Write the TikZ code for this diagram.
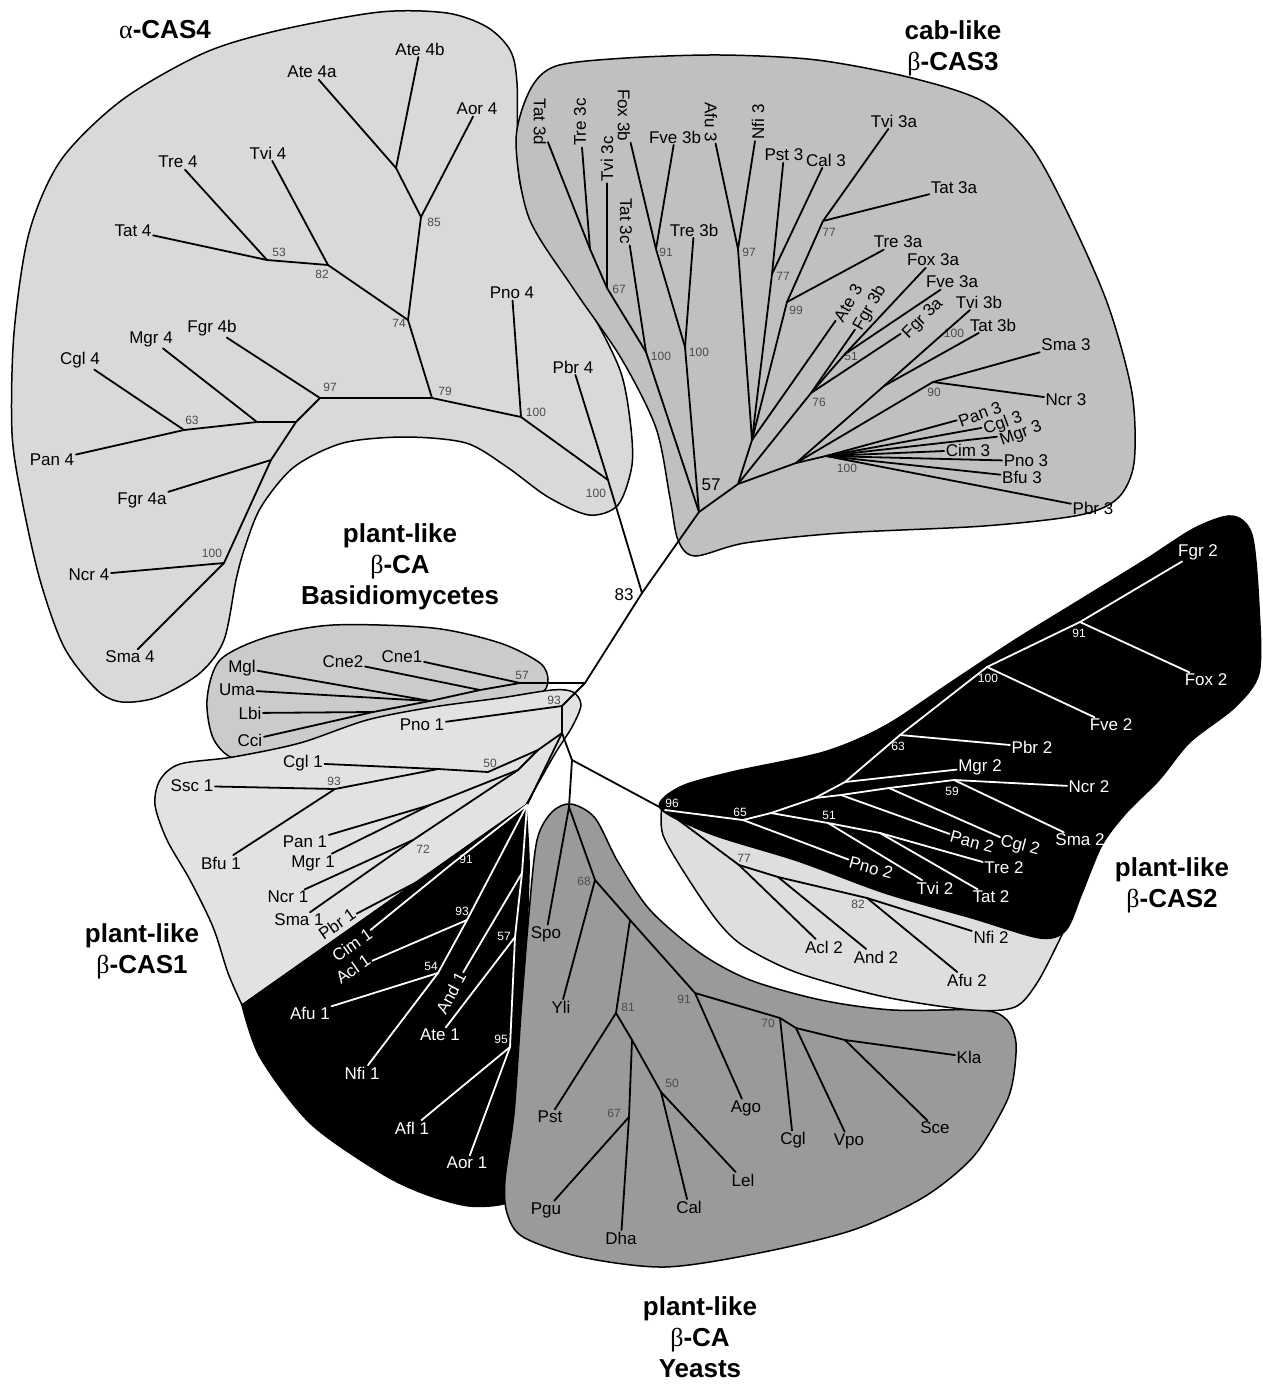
\documentclass[tikz,border=0pt]{standalone}
\usepackage{fontspec}
\setmainfont{Liberation Sans}
\newfontfamily\grk{Liberation Serif}
\usepackage{tikz}
\definecolor{casfour}{HTML}{D9D9D9}
\definecolor{casthree}{HTML}{C0C0C0}
\definecolor{basid}{HTML}{CBCBCB}
\definecolor{casone}{HTML}{E2E2E2}
\definecolor{castwo}{HTML}{DEDEDE}
\definecolor{yeastgray}{HTML}{9A9A9A}
\tikzstyle{taxon} = [font=\fontsize{17}{20}\selectfont, inner sep=1.5pt]
\tikzstyle{wtaxon} = [taxon, text=white]
\tikzstyle{boot} = [font=\fontsize{12}{14}\selectfont, text=black!70, inner sep=0.5pt]
\tikzstyle{wboot} = [boot, text=white]
\tikzstyle{clade} = [font=\bfseries\fontsize{26}{31}\selectfont, align=center, inner sep=0pt]
\tikzstyle{branch} = [line width=1.8pt, line cap=round, line join=round]
\tikzstyle{wbranch} = [branch, white]
\tikzstyle{region} = [draw=black, line width=1.5pt]

\begin{document}
\begin{tikzpicture}[x=1pt, y=-1pt]
\useasboundingbox (0,0) rectangle (1262,1390);

\coordinate (a4ab) at (396,168);
\coordinate (a85) at (421,217);
\coordinate (a74) at (408,320);
\coordinate (a53) at (267,260);
\coordinate (a82) at (328,265);
\coordinate (a79) at (432,398);
\coordinate (a97) at (320,398);
\coordinate (a100p) at (521,417);
\coordinate (a100l) at (608,480);
\coordinate (a4pan) at (296,422);
\coordinate (a4mgr) at (257,422);
\coordinate (a63) at (184,430);
\coordinate (a4fgr) at (271,460);
\coordinate (a100n) at (224,563);
\coordinate (n83) at (642,593);

\coordinate (c3d) at (590,249);
\coordinate (c67) at (607,288);
\coordinate (c100a) at (646,352);
\coordinate (croot) at (699,512);
\coordinate (c91) at (656,249);
\coordinate (c100b) at (685,347);
\coordinate (c97) at (738,249);
\coordinate (cx) at (752,440);
\coordinate (c77a) at (772,274);
\coordinate (c77b) at (823,221);
\coordinate (c99) at (787,302);
\coordinate (c57) at (738,484);
\coordinate (c51) at (845,354);
\coordinate (c76) at (811,393);
\coordinate (c100c) at (884,386);
\coordinate (c90) at (933,382);
\coordinate (c610) at (796,463);
\coordinate (c100d) at (826,456);

\coordinate (b57) at (520,683);
\coordinate (bcne) at (480,690);
\coordinate (bmu) at (430,701);
\coordinate (blc) at (373,712);
\coordinate (bjoin) at (585,683);
\coordinate (b93) at (562,706);
\coordinate (cj) at (562,733);

\coordinate (p1) at (538,750);
\coordinate (p2) at (518,770);
\coordinate (p50) at (488,772);
\coordinate (pcgl) at (438,769);
\coordinate (p93) at (335,789);
\coordinate (ppm) at (430,805);
\coordinate (p72) at (413,840);
\coordinate (ptip) at (527,805);
\coordinate (p91) at (453,863);
\coordinate (p93w) at (467,920);
\coordinate (p54) at (438,973);
\coordinate (pand) at (522,873);
\coordinate (p57) at (515,937);
\coordinate (p95) at (510,1047);

\coordinate (yk) at (572,760);
\coordinate (yr) at (569,807);
\coordinate (y68) at (595,880);
\coordinate (y1) at (630,920);
\coordinate (y81) at (616,1013);
\coordinate (yd) at (632,1040);
\coordinate (y67) at (629,1117);
\coordinate (y50) at (661,1092);
\coordinate (y91) at (695,993);
\coordinate (y70) at (780,1018);
\coordinate (yvp) at (796,1028);
\coordinate (ysc) at (845,1040);

\coordinate (t96) at (665,810);
\coordinate (t65) at (743,820);
\coordinate (t2a) at (771,813);
\coordinate (t2b) at (815,798);
\coordinate (t2c) at (845,782);
\coordinate (t63) at (900,735);
\coordinate (t100) at (987,667);
\coordinate (t91) at (1080,622);
\coordinate (t2pan) at (841,795);
\coordinate (t2cgl) at (889,788);
\coordinate (t59) at (954,780);
\coordinate (t51) at (828,823);
\coordinate (t2t) at (880,833);
\coordinate (t77) at (739,865);
\coordinate (t2and) at (778,877);
\coordinate (t82) at (867,898);

\draw[region, fill=casfour] plot[smooth cycle] coordinates {(380,12) (447,13) (487,27) (510,50) (517,83) (520,183) (550,250) (590,310) (620,370) (630,420) (632,465) (618,505) (589,515) (548,497) (507,467) (466,443) (405,437) (343,443) (294,467) (261,507) (245,547) (236,580) (224,640) (200,673) (158,697) (122,702) (97,690) (64,647) (40,580) (22,500) (12,433) (14,333) (29,233) (61,160) (122,100) (204,53) (280,30)};
\draw[region, fill=casthree] plot[smooth cycle] coordinates {(530,90) (556,66) (626,58) (721,55) (817,60) (912,78) (984,102) (1032,148) (1070,218) (1108,305) (1132,393) (1134,463) (1118,498) (1080,515) (984,526) (841,533) (745,543) (695,556) (678,540) (670,498) (656,428) (621,358) (573,288) (529,218) (516,141)};
\draw[region, fill=basid] plot[smooth cycle] coordinates {(207,700) (220,660) (267,637) (333,625) (433,628) (500,643) (540,663) (548,680) (540,694) (500,702) (433,710) (367,724) (300,746) (240,760) (214,740)};
\draw[region, fill=casone] plot[smooth] coordinates {(242,1005) (228,973) (213,927) (190,880) (167,840) (155,805) (160,780) (180,764) (233,757) (300,743) (367,720) (433,707) (500,698) (552,690) (573,692) (581,705) (572,727) (556,752) (540,780) (526,805)} -- cycle;
\draw[region, fill=black] plot[smooth] coordinates {(526,805) (529,860) (528,907) (524,1040) (512,1140) (516,1185) (506,1203) (469,1206) (425,1194) (381,1173) (310,1123) (260,1057) (242,1005)} -- cycle;
\draw[region, fill=yeastgray] plot[smooth cycle] coordinates {(571,804) (595,818) (618,862) (650,910) (700,953) (750,980) (821,1000) (893,1010) (982,1010) (1007,1020) (1016,1043) (1013,1080) (1004,1107) (973,1157) (924,1197) (853,1230) (759,1253) (665,1267) (581,1257) (523,1237) (507,1213) (505,1180) (514,1113) (521,1013) (529,913) (537,840) (552,812)};
\draw[region, fill=castwo] plot[smooth] coordinates {(662,805) (663,835) (689,880) (719,923) (745,947) (798,973) (885,997) (972,1010) (1015,1007) (1037,983) (1058,943) (1066,925)} -- (1050,900) -- (700,805) -- cycle;
\draw[region, fill=black] plot[smooth cycle] coordinates {(660,808) (680,787) (732,772) (824,752) (885,726) (950,683) (1015,640) (1080,600) (1145,560) (1195,528) (1232,516) (1252,535) (1259,607) (1259,673) (1235,707) (1190,742) (1159,780) (1126,813) (1102,845) (1082,893) (1066,930) (1040,938) (972,918) (885,893) (798,861) (711,834)};

\node[clade] (tcasfour) at (165,30) {{\grk\mdseries α}-CAS4};
\node[clade] (tcasthree) at (953,48) {cab-like\\{\grk\mdseries β}-CAS3};
\node[clade] (tbasid) at (400,567) {plant-like\\{\grk\mdseries β}-CA\\Basidiomycetes};
\node[clade] (tcasone) at (142,951) {plant-like\\{\grk\mdseries β}-CAS1};
\node[clade] (tcastwo) at (1172,885) {plant-like\\{\grk\mdseries β}-CAS2};
\node[clade] (tyeast) at (700,1337) {plant-like\\{\grk\mdseries β}-CA\\Yeasts};

\node[taxon] (ate4a) at (312,72) {Ate 4a};
\node[taxon] (ate4b) at (420,49) {Ate 4b};
\node[taxon] (aor4) at (477,109) {Aor 4};
\node[taxon] (tre4) at (178,162) {Tre 4};
\node[taxon] (tvi4) at (268,153) {Tvi 4};
\node[taxon] (tat4) at (133,231) {Tat 4};
\node[taxon] (pno4) at (512,293) {Pno 4};
\node[taxon] (pbr4) at (573,367) {Pbr 4};
\node[taxon] (fgr4b) at (212,328) {Fgr 4b};
\node[taxon] (mgr4) at (151,339) {Mgr 4};
\node[taxon] (cgl4) at (80,360) {Cgl 4};
\node[taxon] (pan4) at (52,460) {Pan 4};
\node[taxon] (fgr4a) at (142,500) {Fgr 4a};
\node[taxon] (ncr4) at (89,575) {Ncr 4};
\node[taxon] (sma4) at (130,657) {Sma 4};
\node[boot] (bt53) at (279,252) {53};
\node[boot] (bt82) at (322,274) {82};
\node[boot] (bt85) at (434,222) {85};
\node[boot] (bt74) at (399,323) {74};
\node[boot] (bt97) at (330,387) {97};
\node[boot] (bt79) at (445,391) {79};
\node[boot] (bt100p) at (536,412) {100};
\node[boot] (bt63) at (192,420) {63};
\node[boot] (bt100n) at (212,553) {100};
\node[boot] (bt100l) at (596,493) {100};
\node[taxon] (bt83) at (624,595) {83};

\node[taxon, rotate=-90] (tat3d) at (540,122) {Tat 3d};
\node[taxon, rotate=90] (tre3c) at (580,122) {Tre 3c};
\node[taxon, rotate=90] (tvi3c) at (607,159) {Tvi 3c};
\node[taxon, rotate=-90] (fox3b) at (624,115) {Fox 3b};
\node[taxon, rotate=-90] (tat3c) at (626,221) {Tat 3c};
\node[taxon, rotate=-90] (afu3) at (711,122) {Afu 3};
\node[taxon, rotate=90] (nfi3) at (758,122) {Nfi 3};
\node[taxon] (fve3b) at (675,137) {Fve 3b};
\node[taxon] (tre3b) at (694,230) {Tre 3b};
\node[taxon] (pst3) at (784,155) {Pst 3};
\node[taxon] (cal3) at (826,160) {Cal 3};
\node[taxon] (tvi3a) at (894,121) {Tvi 3a};
\node[taxon] (tat3a) at (954,188) {Tat 3a};
\node[taxon] (tre3a) at (898,242) {Tre 3a};
\node[taxon] (fox3a) at (933,260) {Fox 3a};
\node[taxon] (fve3a) at (952,282) {Fve 3a};
\node[taxon, rotate=60] (ate3) at (848,303) {Ate 3};
\node[taxon, rotate=60] (fgr3b) at (870,308) {Fgr 3b};
\node[taxon, rotate=45] (fgr3a) at (923,319) {Fgr 3a};
\node[taxon] (tvi3b) at (979,302) {Tvi 3b};
\node[taxon] (tat3b) at (993,325) {Tat 3b};
\node[taxon] (sma3) at (1066,345) {Sma 3};
\node[taxon] (ncr3) at (1066,400) {Ncr 3};
\node[taxon, rotate=20] (pan3) at (980,414) {Pan 3};
\node[taxon, rotate=20] (cgl3) at (1003,424) {Cgl 3};
\node[taxon, rotate=20] (mgr3) at (1021,434) {Mgr 3};
\node[taxon] (cim3) at (968,450) {Cim 3};
\node[taxon] (pno3) at (1026,461) {Pno 3};
\node[taxon] (bfu3) at (1022,477) {Bfu 3};
\node[taxon] (pbr3) at (1093,508) {Pbr 3};
\node[boot] (bt67c) at (619,289) {67};
\node[boot] (bt91c) at (666,252) {91};
\node[boot] (bt100a) at (661,356) {100};
\node[boot] (bt100b) at (699,352) {100};
\node[boot] (bt97c) at (749,252) {97};
\node[boot] (bt77a) at (783,276) {77};
\node[boot] (bt99) at (796,310) {99};
\node[boot] (bt77b) at (829,232) {77};
\node[boot] (bt51c) at (851,356) {51};
\node[boot] (bt76) at (819,402) {76};
\node[boot] (bt100c) at (954,333) {100};
\node[boot] (bt90) at (934,392) {90};
\node[boot] (bt100d) at (847,468) {100};
\node[taxon] (bt57c) at (711,485) {57};

\node[taxon] (mgl) at (242,668) {Mgl};
\node[taxon] (uma) at (237,690) {Uma};
\node[taxon] (lbi) at (250,713) {Lbi};
\node[taxon] (cci) at (250,740) {Cci};
\node[taxon] (cne2) at (343,662) {Cne2};
\node[taxon] (cne1) at (402,657) {Cne1};
\node[taxon] (pno1) at (422,725) {Pno 1};
\node[boot] (bt57b) at (522,675) {57};
\node[boot] (bt93b) at (554,700) {93};

\node[taxon] (cgl1) at (303,763) {Cgl 1};
\node[taxon] (ssc1) at (192,786) {Ssc 1};
\node[taxon] (bfu1) at (221,863) {Bfu 1};
\node[taxon] (pan1) at (305,842) {Pan 1};
\node[taxon] (mgr1) at (313,863) {Mgr 1};
\node[taxon] (ncr1) at (288,897) {Ncr 1};
\node[taxon] (sma1) at (299,920) {Sma 1};
\node[taxon, rotate=35] (pbr1) at (337,924) {Pbr 1};
\node[wtaxon, rotate=35] (cim1) at (352,945) {Cim 1};
\node[wtaxon, rotate=35] (acl1) at (353,969) {Acl 1};
\node[wtaxon] (afu1) at (310,1013) {Afu 1};
\node[wtaxon] (nfi1) at (362,1073) {Nfi 1};
\node[wtaxon, rotate=62] (and1) at (451,993) {And 1};
\node[wtaxon] (ate1) at (440,1035) {Ate 1};
\node[wtaxon] (afl1) at (412,1128) {Afl 1};
\node[wtaxon] (aor1) at (467,1163) {Aor 1};
\node[boot] (bt50p) at (490,763) {50};
\node[boot] (bt93p) at (334,781) {93};
\node[boot] (bt72) at (423,849) {72};
\node[wboot] (bt91p) at (466,859) {91};
\node[wboot] (bt93w) at (462,911) {93};
\node[wboot] (bt54) at (431,966) {54};
\node[wboot] (bt57p) at (504,936) {57};
\node[wboot] (bt95) at (501,1039) {95};

\node[taxon] (spo) at (546,934) {Spo};
\node[taxon] (yli) at (561,1007) {Yli};
\node[taxon] (pst) at (550,1117) {Pst};
\node[taxon] (pgu) at (546,1210) {Pgu};
\node[taxon] (dha) at (621,1238) {Dha};
\node[taxon] (cal) at (689,1207) {Cal};
\node[taxon] (lel) at (743,1180) {Lel};
\node[taxon] (ago) at (746,1108) {Ago};
\node[taxon] (ycgl) at (793,1140) {Cgl};
\node[taxon] (vpo) at (849,1141) {Vpo};
\node[taxon] (sce) at (935,1128) {Sce};
\node[taxon] (kla) at (969,1057) {Kla};
\node[boot] (bt68) at (584,881) {68};
\node[boot] (bt81) at (628,1007) {81};
\node[boot] (bt67y) at (614,1113) {67};
\node[boot] (bt50y) at (672,1083) {50};
\node[boot] (bt91y) at (684,999) {91};
\node[boot] (bt70) at (768,1023) {70};

\node[wtaxon] (fgr2) at (1198,552) {Fgr 2};
\node[wtaxon] (fox2) at (1206,680) {Fox 2};
\node[wtaxon] (fve2) at (1111,725) {Fve 2};
\node[wtaxon] (pbr2) at (1032,747) {Pbr 2};
\node[wtaxon] (mgr2) at (980,767) {Mgr 2};
\node[wtaxon] (ncr2) at (1089,787) {Ncr 2};
\node[wtaxon] (sma2) at (1080,840) {Sma 2};
\node[wtaxon, rotate=-15] (pan2) at (972,842) {Pan 2};
\node[wtaxon, rotate=-15] (cgl2) at (1020,846) {Cgl 2};
\node[wtaxon] (tre2) at (1004,868) {Tre 2};
\node[wtaxon] (tat2) at (991,897) {Tat 2};
\node[wtaxon] (tvi2) at (935,888) {Tvi 2};
\node[wtaxon, rotate=-15] (pno2) at (871,868) {Pno 2};
\node[taxon] (acl2) at (824,947) {Acl 2};
\node[taxon] (and2) at (876,957) {And 2};
\node[taxon] (nfi2) at (991,937) {Nfi 2};
\node[taxon] (afu2) at (967,980) {Afu 2};
\node[wboot] (bt96) at (672,803) {96};
\node[wboot] (bt65) at (740,812) {65};
\node[wboot] (bt51t) at (829,815) {51};
\node[wboot] (bt59) at (952,791) {59};
\node[wboot] (bt63t) at (898,746) {63};
\node[wboot] (bt100t) at (988,678) {100};
\node[wboot] (bt91t) at (1079,633) {91};
\node[boot] (bt77t) at (744,858) {77};
\node[boot] (bt82t) at (858,904) {82};

\draw[branch] (ate4a) -- (a4ab) -- (a85) -- (a74) -- (a79) -- (a100p) -- (a100l) -- (n83);
\draw[branch] (ate4b) -- (a4ab);
\draw[branch] (aor4) -- (a85);
\draw[branch] (tre4) -- (a53) -- (a82) -- (a74);
\draw[branch] (tat4) -- (a53);
\draw[branch] (tvi4) -- (a82);
\draw[branch] (a97) -- (a79);
\draw[branch] (pno4) -- (a100p);
\draw[branch] (pbr4) -- (a100l);
\draw[branch] (fgr4b) -- (a97) -- (a4pan) -- (a4fgr) -- (a100n);
\draw[branch] (pan4) -- (a63) -- (a4mgr) -- (a4pan);
\draw[branch] (cgl4) -- (a63);
\draw[branch] (mgr4) -- (a4mgr);
\draw[branch] (fgr4a) -- (a4fgr);
\draw[branch] (ncr4) -- (a100n);
\draw[branch] (sma4) -- (a100n);

\draw[branch] (tat3d) -- (c3d) -- (c67) -- (c100a) -- (croot) -- (n83);
\draw[branch] (tre3c) -- (c3d);
\draw[branch] (tvi3c) -- (c67);
\draw[branch] (tat3c) -- (c100a);
\draw[branch] (fox3b) -- (c91) -- (c100b) -- (croot);
\draw[branch] (fve3b) -- (c91);
\draw[branch] (tre3b) -- (c100b);
\draw[branch] (afu3) -- (c97) -- (cx) -- (c57) -- (croot);
\draw[branch] (nfi3) -- (c97);
\draw[branch] (pst3) -- (c77a) -- (cx);
\draw[branch] (cal3) -- (c77a);
\draw[branch] (tvi3a) -- (c77b) -- (c99) -- (cx);
\draw[branch] (tat3a) -- (c77b);
\draw[branch] (tre3a) -- (c99);
\draw[branch] (ate3) -- (cx);
\draw[branch] (fox3a) -- (c51) -- (c76) -- (c57);
\draw[branch] (fve3a) -- (c51);
\draw[branch] (fgr3b) -- (c76);
\draw[branch] (fgr3a) -- (c76);
\draw[branch] (tvi3b) -- (c100c) -- (c610) -- (c57);
\draw[branch] (tat3b) -- (c100c);
\draw[branch] (sma3) -- (c90) -- (c610);
\draw[branch] (ncr3) -- (c90);
\draw[branch] (c100d) -- (c610);
\draw[branch] (pan3) -- (c100d);
\draw[branch] (cgl3) -- (c100d);
\draw[branch] (mgr3) -- (c100d);
\draw[branch] (cim3) -- (c100d);
\draw[branch] (pno3) -- (c100d);
\draw[branch] (bfu3) -- (c100d);
\draw[branch] (pbr3) -- (c100d);

\draw[branch] (cne1) -- (b57) -- (bjoin);
\draw[branch] (n83) -- (bjoin) -- (b93) -- (cj);
\draw[branch] (cne2) -- (bcne) -- (b57);
\draw[branch] (cci) -- (blc) -- (bmu) -- (bcne);
\draw[branch] (lbi) -- (blc);
\draw[branch] (mgl) -- (bmu);
\draw[branch] (uma) -- (bmu);
\draw[branch] (pno1) -- (b93);

\draw[branch] (cgl1) -- (pcgl) -- (p50) -- (p1) -- (cj);
\draw[branch] (ssc1) -- (p93) -- (pcgl);
\draw[branch] (bfu1) -- (p93);
\draw[branch] (pan1) -- (ppm) -- (p2) -- (p1);
\draw[branch] (mgr1) -- (ppm);
\draw[branch] (ncr1) -- (p72) -- (p2);
\draw[branch] (sma1) -- (p72);
\draw[branch] (pbr1) -- (p91);
\draw[branch] (cj) -- (ptip);
\draw[wbranch] (p91) -- (ptip);
\draw[wbranch] (cim1) -- (p91);
\draw[wbranch] (acl1) -- (p93w) -- (ptip);
\draw[wbranch] (afu1) -- (p54) -- (p93w);
\draw[wbranch] (nfi1) -- (p54);
\draw[wbranch] (and1) -- (pand);
\draw[wbranch] (ate1) -- (p57);
\draw[wbranch] (afl1) -- (p95) -- (p57) -- (pand) -- (ptip);
\draw[wbranch] (aor1) -- (p95);

\draw[branch] (cj) -- (yk) -- (yr);
\draw[branch] (spo) -- (yr) -- (y68) -- (y1) -- (y91) -- (y70) -- (yvp) -- (ysc) -- (kla);
\draw[branch] (yli) -- (y68);
\draw[branch] (y1) -- (y81) -- (yd) -- (y50) -- (lel);
\draw[branch] (pst) -- (y81);
\draw[branch] (yd) -- (y67) -- (dha);
\draw[branch] (pgu) -- (y67);
\draw[branch] (cal) -- (y50);
\draw[branch] (ago) -- (y91);
\draw[branch] (ycgl) -- (y70);
\draw[branch] (vpo) -- (yvp);
\draw[branch] (sce) -- (ysc);

\draw[branch] (yk) -- (t96) -- (t77) -- (t2and) -- (t82) -- (nfi2);
\draw[branch] (acl2) -- (t77);
\draw[branch] (and2) -- (t2and);
\draw[branch] (afu2) -- (t82);
\draw[wbranch] (t96) -- (t65) -- (t2a) -- (t2b) -- (t2c) -- (t63) -- (t100) -- (t91) -- (fgr2);
\draw[wbranch] (fox2) -- (t91);
\draw[wbranch] (fve2) -- (t100);
\draw[wbranch] (pbr2) -- (t63);
\draw[wbranch] (mgr2) -- (t2c);
\draw[wbranch] (t2b) -- (t2pan) -- (t2cgl) -- (t59) -- (ncr2);
\draw[wbranch] (pan2) -- (t2pan);
\draw[wbranch] (cgl2) -- (t2cgl);
\draw[wbranch] (sma2) -- (t59);
\draw[wbranch] (t2a) -- (t51) -- (t2t) -- (tre2);
\draw[wbranch] (tvi2) -- (t51);
\draw[wbranch] (tat2) -- (t2t);
\draw[wbranch] (pno2) -- (t65);
\end{tikzpicture}
\end{document}
